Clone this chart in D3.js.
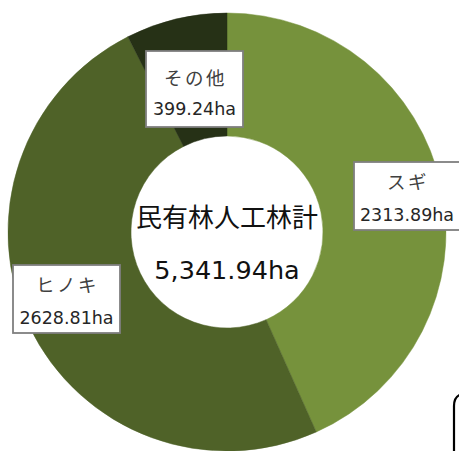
<!DOCTYPE html>
<html>
<head>
<meta charset="utf-8">
<script src="https://cdn.jsdelivr.net/npm/d3@7"></script>
<style>
	body { margin: 0; background: #fff; }
	svg { display: block; }
</style>
</head>
<body>
<svg width="459" height="451"></svg>
<script>
// Chart data
var species = ["スギ", "ヒノキ", "その他"]
var areas = [2313.89, 2628.81, 399.24]
var valueLabels = ["2313.89ha", "2628.81ha", "399.24ha"]
var colors = ["#76923c", "#4f6228", "#263116"]
var totalTitle = "民有林人工林計"
var totalLabel = "5,341.94ha"

var svg = d3.select("svg")
var font = "'DejaVu Sans', 'Noto Sans CJK JP', sans-serif"

var cx = 227, cy = 232
var outerR = 219, innerR = 96

var g = svg.append("g").attr("transform", "translate(" + cx + "," + cy + ")")

var pie = d3.pie().sort(null).value(function(d) { return d })
var arc = d3.arc().innerRadius(innerR).outerRadius(outerR)

var slices = pie(areas)

g.selectAll(".slice")
	.data(slices)
	.enter().append("path")
	.attr("class", "slice")
	.attr("d", arc)
	.style("fill", function(d, i) { return colors[i] })
	.style("stroke", function(d, i) { return colors[i] })
	.style("stroke-width", 0.5)

// Center text
g.append("text")
	.attr("y", -5)
	.attr("text-anchor", "middle")
	.style("font-family", "'Noto Sans CJK JP', sans-serif")
	.style("font-size", "26px")
	.style("fill", "#111")
	.text(totalTitle)
g.append("text")
	.attr("y", 47)
	.attr("text-anchor", "middle")
	.style("font-family", font)
	.style("font-size", "25.5px")
	.style("fill", "#111")
	.text(totalLabel)

// Label boxes (page coords) and text baselines inside each box
var boxes = [
	{x: 354, y: 162, w: 106, h: 68, t1: 27, t2: 59},
	{x: 13, y: 265, w: 107, h: 68, t1: 27, t2: 59},
	{x: 146, y: 51, w: 97, h: 76, t1: 34, t2: 64}
]

var labels = svg.selectAll(".label")
	.data(species)
	.enter().append("g")
	.attr("class", "label")
	.attr("transform", function(d, i) { return "translate(" + boxes[i].x + "," + boxes[i].y + ")" })

labels.append("rect")
	.attr("width", function(d, i) { return boxes[i].w })
	.attr("height", function(d, i) { return boxes[i].h })
	.style("fill", "#fff")
	.style("stroke", "#7f7f7f")
	.style("stroke-width", 1.8)

labels.append("text")
	.attr("x", function(d, i) { return boxes[i].w / 2 + 1 })
	.attr("y", function(d, i) { return boxes[i].t1 })
	.attr("text-anchor", "middle")
	.style("font-family", "'Noto Sans CJK JP', sans-serif")
	.style("font-size", "18.5px")
	.style("letter-spacing", "2.5px")
	.style("fill", "#404040")
	.text(function(d) { return d })

labels.append("text")
	.attr("x", function(d, i) { return boxes[i].w / 2 })
	.attr("y", function(d, i) { return boxes[i].t2 })
	.attr("text-anchor", "middle")
	.style("font-family", font)
	.style("font-size", "17.5px")
	.style("fill", "#262626")
	.text(function(d, i) { return valueLabels[i] })

// Corner of another shape, cut off at bottom right
svg.append("path")
	.attr("d", "M454,451 L454,406 Q454,396 462,394")
	.style("fill", "none")
	.style("stroke", "#000")
	.style("stroke-width", 2.2)
</script>
</body>
</html>
